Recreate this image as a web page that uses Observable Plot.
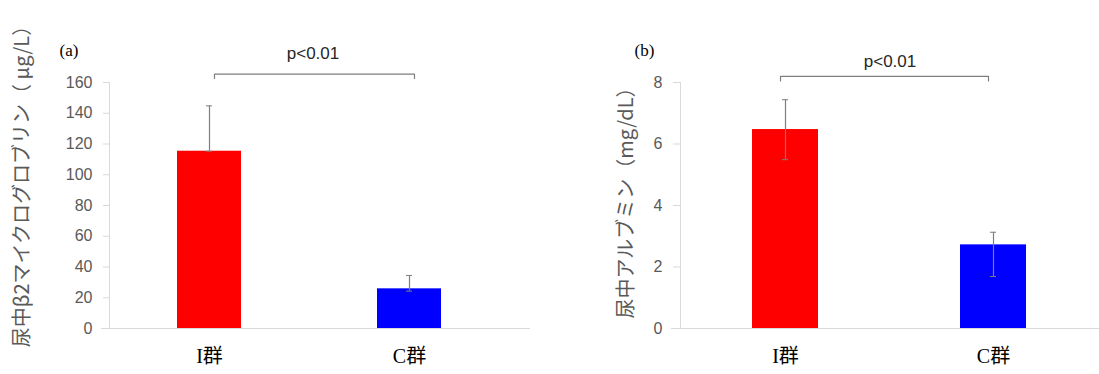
<!DOCTYPE html>
<html>
<head>
<meta charset="utf-8">
<script src="https://cdn.jsdelivr.net/npm/d3@7"></script>
<script src="https://cdn.jsdelivr.net/npm/@observablehq/plot@0.6"></script>
<style>
  html, body { margin: 0; padding: 0; background: #fff; }
  #wrap { display: flex; flex-direction: row; width: 1099px; height: 374px; }
  #wrap svg { display: block; }
</style>
</head>
<body>
<div id="wrap"></div>
<script>
// ---- data ----
const groups = ["I群", "C群"];
const barColors = ["#ff0000", "#0000ff"];

// (a) urinary β2-microglobulin (μg/L)
const b2mValues = [115.3, 25.8];
const b2mLow    = [115.3, 24.3];
const b2mHigh   = [144.8, 34.5];
const b2mTicks  = [0, 20, 40, 60, 80, 100, 120, 140, 160];
const b2mTitle  = "尿中β2マイクログロブリン（ μg/L）";

// (b) urinary albumin (mg/dL)
const albValues = [6.47, 2.72];
const albLow    = [5.49, 1.69];
const albHigh   = [7.44, 3.13];
const albTicks  = [0, 2, 4, 6, 8];
const albTitle  = "尿中アルブミン（mg/dL）";

const pLabel = "p<0.01";

const sans = "'Liberation Sans', Arial, 'Noto Sans CJK JP', sans-serif";
const cjk = "'Noto Sans CJK JP', 'Liberation Sans', sans-serif";
const serif = "'Liberation Serif', 'Times New Roman', 'Noto Sans CJK JP', serif";

function panel(o) {
  const data = groups.map((g, i) => ({group: g, value: o.values[i], low: o.low[i], high: o.high[i], color: barColors[i]}));
  const bracket = [
    {x: groups[0], y: o.bracketTick},
    {x: groups[0], y: o.bracketY},
    {x: groups[1], y: o.bracketY},
    {x: groups[1], y: o.bracketTick}
  ];
  return Plot.plot({
    width: o.width,
    height: 374,
    marginTop: 82,
    marginBottom: 46,
    marginLeft: o.marginLeft,
    marginRight: o.marginRight,
    style: {fontFamily: sans, background: "#fff", overflow: "visible"},
    x: {domain: groups, paddingInner: o.pInner, paddingOuter: o.pOuter, align: o.align, label: null},
    y: {domain: o.domain, label: null},
    marks: [
      Plot.ruleY([0], {stroke: "#d9d9d9", strokeWidth: 1.2, insetLeft: -o.tickSize - 2}),
      Plot.frame({anchor: "left", stroke: "#d9d9d9"}),
      Plot.axisY({ticks: o.ticks, tickSize: o.tickSize, tickPadding: o.tickPadding, stroke: "#d9d9d9", fill: "#595959", fontSize: 16, label: null}),
      Plot.axisX({tickSize: 0, tickPadding: 20, fontSize: 20, fontFamily: serif, fill: "#000", label: null}),
      Plot.barY(data, {x: "group", y: "value", fill: "color"}),
      Plot.ruleX(data, {x: "group", y1: "low", y2: "high", stroke: "#7f7f7f", strokeWidth: 1.2}),
      Plot.tickY(data, {x: "group", y: "high", stroke: "#7f7f7f", insetLeft: o.capInset, insetRight: o.capInset}),
      Plot.tickY(data, {x: "group", y: "low", stroke: "#7f7f7f", insetLeft: o.capInset, insetRight: o.capInset}),
      Plot.line(bracket, {x: "x", y: "y", dx: o.bracketDx, stroke: "#7f7f7f", strokeWidth: 1.2}),
      Plot.text([{label: pLabel, y: o.pY}], {y: "y", text: "label", dx: o.pDx, lineAnchor: "bottom", fontSize: 17, letterSpacing: 2, fill: "#262626", fontFamily: sans}),
      Plot.text([o.title], {text: d => d, frameAnchor: "left", rotate: -90, textAnchor: "middle", lineAnchor: "middle", dx: o.titleDx, dy: o.titleDy, fontSize: 20, letterSpacing: 1, fill: "#595959", fontFamily: cjk}),
      Plot.text([o.tag], {text: d => d, frameAnchor: "top-left", textAnchor: "start", lineAnchor: "middle", dx: o.tagDx, dy: -32, fontSize: 17, fill: "#000", fontFamily: serif})
    ]
  });
}

const left = panel({
  values: b2mValues, low: b2mLow, high: b2mHigh, ticks: b2mTicks, domain: [0, 160],
  title: b2mTitle, tag: "(a)",
  bracketY: 165.5, bracketTick: 162.6, bracketDx: 5, pY: 175, pDx: -7,
  width: 550, marginLeft: 109, marginRight: 20,
  pInner: 0.68, pOuter: 0.3925, align: 0.433, capInset: 29,
  tickSize: 6, tickPadding: 11, titleDx: -87, titleDy: -24, tagDx: -50
});
const right = panel({
  values: albValues, low: albLow, high: albHigh, ticks: albTicks, domain: [0, 8],
  title: albTitle, tag: "(b)",
  bracketY: 8.2, bracketTick: 8.05, bracketDx: -5, pY: 8.52, pDx: 0,
  width: 549, marginLeft: 130, marginRight: 0,
  pInner: 0.684, pOuter: 0.3445, align: 0.493, capInset: 30,
  tickSize: 7, tickPadding: 11, titleDx: -54, titleDy: -7.5, tagDx: -46
});
document.getElementById("wrap").append(left, right);
</script>
</body>
</html>
